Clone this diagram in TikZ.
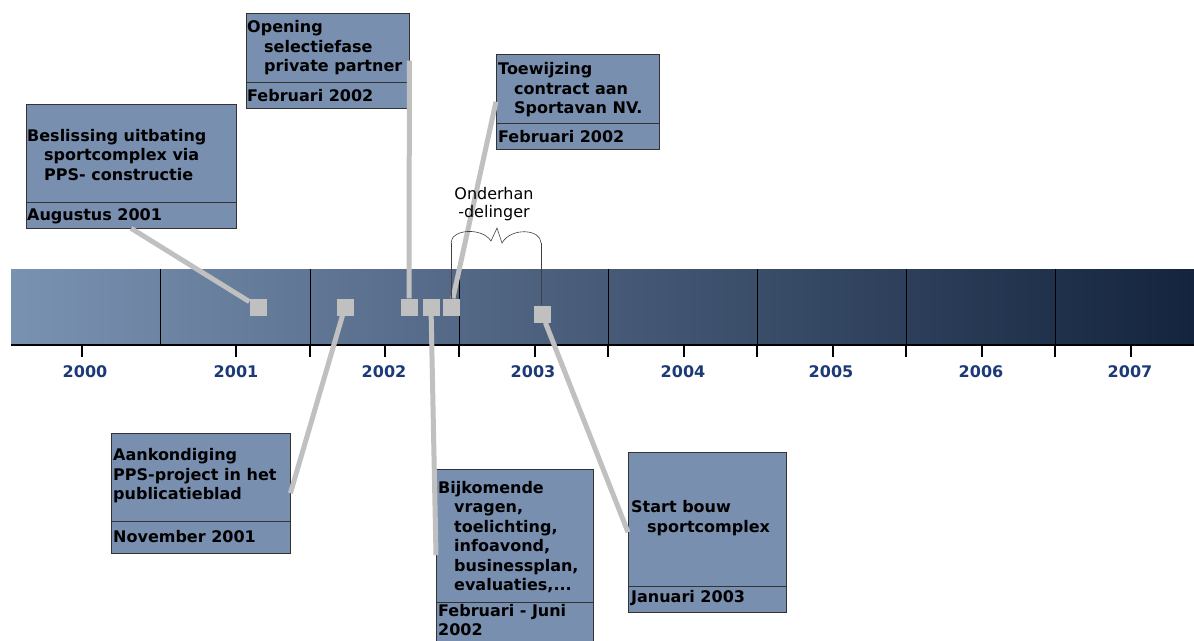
\documentclass[tikz,border=0pt]{standalone}
\usepackage{fontspec}
\setmainfont{DejaVu Sans}
\definecolor{boxfill}{RGB}{120,143,176}
\definecolor{barleft}{RGB}{122,146,178}
\definecolor{barright}{RGB}{20,36,62}
\definecolor{markgray}{RGB}{192,192,192}
\definecolor{yearblue}{RGB}{28,58,118}

\begin{document}
\begin{tikzpicture}[
    x=1pt, y=-1pt,
    evbox/.style={rectangle, draw=black!80, fill=boxfill, anchor=north west, inner sep=0pt},
    evtitle/.style={anchor=west, align=left, inner sep=0pt, font=\fontsize{16}{19.5}\selectfont\bfseries},
    evdate/.style={anchor=west, align=left, inner sep=0pt, font=\fontsize{16}{19}\selectfont\bfseries},
    evsep/.style={draw=black!80, line width=0.8pt},
    marker/.style={rectangle, fill=markgray, minimum size=17pt, inner sep=0pt},
    leader/.style={draw=markgray, line width=5pt},
    yearlabel/.style={font=\fontsize{16}{19}\selectfont\bfseries, text=yearblue},
    bracetick/.style={draw=black!75, line width=0.6pt}
]
\useasboundingbox (0,0) rectangle (1194,640);

% Timeline bar
\shade[left color=barleft, right color=barright] (11,269) rectangle (1194,345);
\foreach \x in {160,310,459,608,757,906,1055}
    \draw[black, line width=0.8pt] (\x,269) -- (\x,345);
\draw[black, line width=1.5pt] (11,345) -- (1194,345);
\foreach \x in {82,236,310,385,459,535,608,684,757,833,906,982,1055,1131}
    \draw[black, line width=1.5pt] (\x,345) -- (\x,357);

% Years
\foreach \yr/\x in {2000/85,2001/236,2002/384,2003/533,2004/683,2005/831,2006/981,2007/1130}
    \node[yearlabel] (y\yr) at (\x,372) {\yr};

% Markers
\node[marker] (mA) at (258,307) {};
\node[marker] (mB) at (345,307) {};
\node[marker] (mC) at (409,307) {};
\node[marker] (mD) at (431,307) {};
\node[marker] (mE) at (451,307) {};
\node[marker] (mF) at (542,314) {};

% Top: events above the bar
\node[evbox, minimum width=210pt, minimum height=124pt] (b1) at (26,104) {};
\draw[evsep] (26,202) -- (236,202);
\node[evtitle] (t1) at (27,155) {Beslissing uitbating\\\hspace*{17pt}sportcomplex via\\\hspace*{17pt}PPS- constructie};
\node[evdate] (d1) at (27,216) {Augustus 2001};

\node[evbox, minimum width=163pt, minimum height=95pt] (b2) at (246,13) {};
\draw[evsep] (246,82) -- (409,82);
\node[evtitle] (t2) at (247,48) {Opening\\\hspace*{17pt}selectiefase\\\hspace*{17pt}private partner};
\node[evdate] (d2) at (247,96) {Februari 2002};

\node[evbox, minimum width=163pt, minimum height=95pt] (b3) at (496,54) {};
\draw[evsep] (496,123) -- (659,123);
\node[evtitle] (t3) at (498,90) {Toewijzing\\\hspace*{16pt}contract aan\\\hspace*{16pt}Sportavan NV.};
\node[evdate] (d3) at (498,137) {Februari 2002};

% Bottom: events below the bar
\node[evbox, minimum width=179pt, minimum height=120pt] (b4) at (111,433) {};
\draw[evsep] (111,521) -- (290,521);
\node[evtitle] (t4) at (113,476) {Aankondiging\\PPS-project in het\\publicatieblad};
\node[evdate] (d4) at (113,537) {November 2001};

\node[evbox, minimum width=157pt, minimum height=172pt] (b5) at (436,469) {};
\draw[evsep] (436,602) -- (593,602);
\node[evtitle] (t5) at (438,537) {Bijkomende\\\hspace*{16pt}vragen,\\\hspace*{16pt}toelichting,\\\hspace*{16pt}infoavond,\\\hspace*{16pt}businessplan,\\\hspace*{16pt}evaluaties,...};
\node[evdate] (d5) at (438,620) {Februari - Juni\\2002};

\node[evbox, minimum width=158pt, minimum height=160pt] (b6) at (628,452) {};
\draw[evsep] (628,586) -- (786,586);
\node[evtitle] (t6) at (631,518) {Start bouw\\\hspace*{16pt}sportcomplex};
\node[evdate] (d6) at (631,598) {Januari 2003};

% Leaders
\draw[leader] (mA) -- (b1.south);
\draw[leader] (mC) -- (b2.east);
\draw[leader] (mE) -- (b3.west);
\draw[leader] (mB) -- (b4.east);
\draw[leader] (mD) -- (b5.west);
\draw[leader] (mF) -- (b6.west);

% Brace
\coordinate (brL) at (451,243);
\coordinate (brR) at (541,243);
\draw[bracetick] (brL) -- (mE);
\draw[bracetick] (brR) -- (mF.north -| brR);
\draw[bracetick] (brL) .. controls (451,229) and (482,227) .. (491,241) -- (497,228) -- (502,243) .. controls (511,227) and (541,229) .. (brR);
\node[align=center, font=\fontsize{16}{18}\selectfont] (onderh) at (494,204) {Onderhan\\-delinger};

\end{tikzpicture}
\end{document}
